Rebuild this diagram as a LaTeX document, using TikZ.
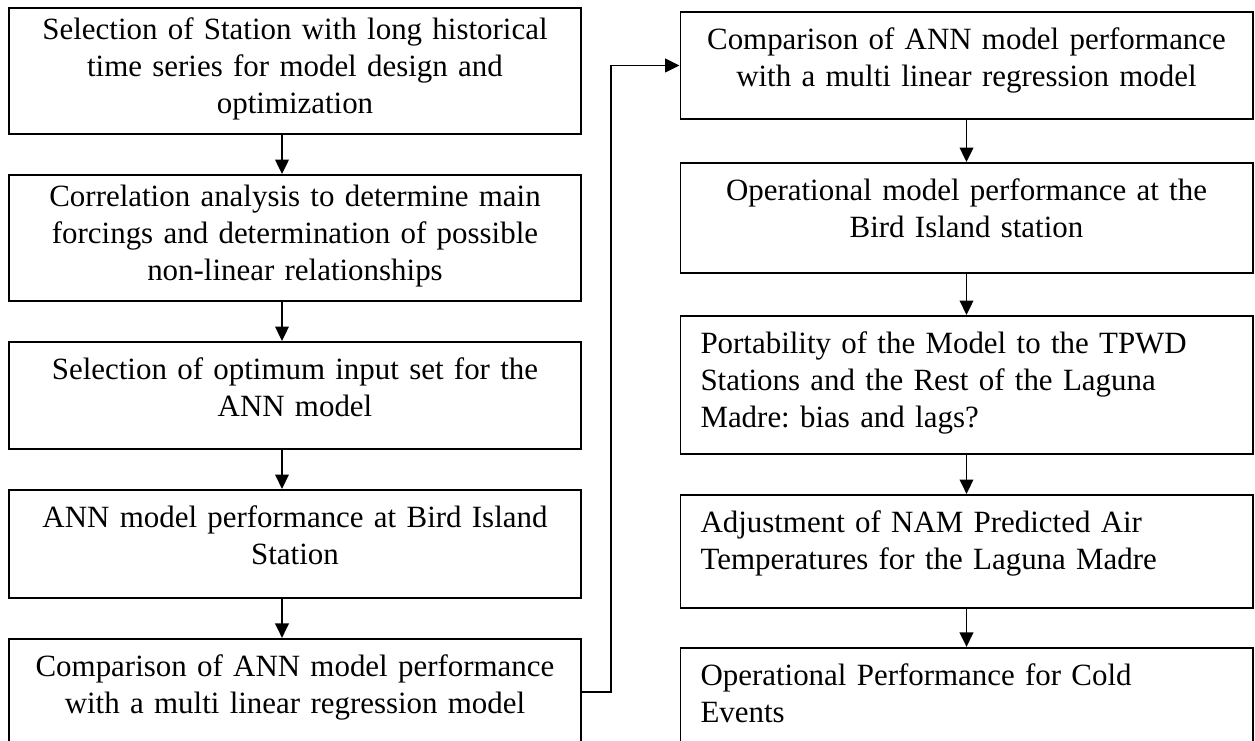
\documentclass[tikz,border=0pt]{standalone}
\usepackage{fontspec}
\setmainfont{Liberation Serif}
\frenchspacing
\usetikzlibrary{positioning, arrows.meta}

\begin{document}
\begin{tikzpicture}[
    stepbox/.style={draw, line width=1.4pt, anchor=north, text width=13.7cm, inner xsep=0.3cm, inner ysep=0pt, align=center, text height=0.95cm, font=\fontsize{22}{26.3}\selectfont},
    leftbox/.style={stepbox, text width=13.3cm, inner xsep=0.5cm, align=left},
    arr/.style={-{Triangle[length=0.36cm, width=0.34cm]}, line width=1.4pt}
]
\clip (0,0) rectangle (31.375,-18.5);

% Left column
\node[stepbox, text height=0.8cm, text depth=2.35cm] (l1) at (7.375,-0.175) {Selection of Station with long historical\\ time series for model design and\\ optimization};
\node[stepbox, text height=0.8cm, text depth=2.35cm, below=0.975cm of l1] (l2) {Correlation analysis to determine main\\ forcings and determination of possible\\ non-linear relationships};
\node[stepbox, text depth=1.725cm, below=0.975cm of l2] (l3) {Selection of optimum input set for the\\ ANN model};
\node[stepbox, text depth=1.75cm, below=0.975cm of l3] (l4) {ANN model performance at Bird Island\\ Station};
\node[stepbox, text depth=1.725cm, below=0.975cm of l4] (l5) {Comparison of ANN model performance\\ with a multi linear regression model};

% Right column
\node[stepbox, text depth=1.725cm] (r1) at (24.1625,-0.275) {Comparison of ANN model performance\\ with a multi linear regression model};
\node[stepbox, text depth=1.8cm, below=1.05cm of r1] (r2) {Operational model performance at the\\ Bird Island station};
\node[leftbox, text depth=2.5cm, below=1.025cm of r2] (r3) {Portability of the Model to the TPWD\\ Stations and the Rest of the Laguna\\ Madre: bias and lags?};
\node[leftbox, text depth=1.875cm, below=0.975cm of r3] (r4) {Adjustment of NAM Predicted Air\\ Temperatures for the Laguna Madre};
\node[leftbox, text depth=2.05cm, below=0.95cm of r4] (r5) {Operational Performance for Cold\\ Events};

% Arrows
\draw[arr] ([xshift=-0.325cm]l1.south) -- ([xshift=-0.325cm]l2.north);
\draw[arr] ([xshift=-0.325cm]l2.south) -- ([xshift=-0.325cm]l3.north);
\draw[arr] ([xshift=-0.325cm]l3.south) -- ([xshift=-0.325cm]l4.north);
\draw[arr] ([xshift=-0.325cm]l4.south) -- ([xshift=-0.325cm]l5.north);
\draw[arr] (l5.east) -- ++(0.725,0) |- (r1.west);
\draw[arr] (r1.south) -- (r2.north);
\draw[arr] (r2.south) -- (r3.north);
\draw[arr] (r3.south) -- (r4.north);
\draw[arr] (r4.south) -- (r5.north);

\end{tikzpicture}
\end{document}
